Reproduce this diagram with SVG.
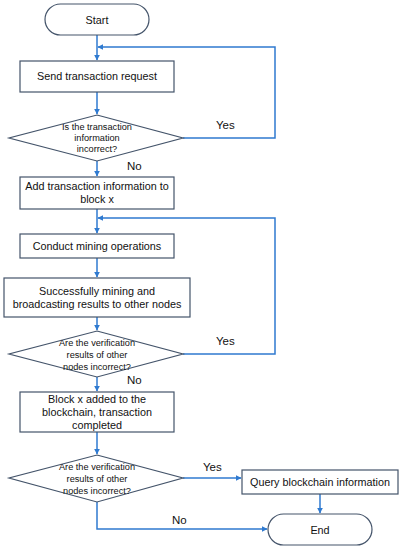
<svg xmlns="http://www.w3.org/2000/svg" width="403" height="550" viewBox="0 0 403 550">
<defs>
<marker id="ah" viewBox="0 0 10 10" refX="9" refY="5" markerWidth="6" markerHeight="6" orient="auto" markerUnits="userSpaceOnUse">
<path d="M0,0 L10,5 L0,10 z" fill="#2f7ad0"/>
</marker>
<style>
.box{fill:#fff;stroke:#44546a;stroke-width:1.2}
.t{font-family:"Liberation Sans",Arial,sans-serif;font-size:10.8px;fill:#111;text-anchor:middle}
.s{font-family:"Liberation Sans",Arial,sans-serif;font-size:9.2px;fill:#111;text-anchor:middle}
.l{font-family:"Liberation Sans",Arial,sans-serif;font-size:11.5px;fill:#111}
.c{fill:none;stroke:#2f7ad0;stroke-width:1.5}
</style>
</defs>
<rect width="403" height="550" fill="#fff"/>
<g id="connectors">
<path class="c" d="M97,35 V60" marker-end="url(#ah)"/>
<path class="c" d="M183,138 H275 V47 H98" marker-end="url(#ah)"/>
<path class="c" d="M97,92 V114" marker-end="url(#ah)"/>
<path class="c" d="M97,161 V176" marker-end="url(#ah)"/>
<path class="c" d="M97,209 V233" marker-end="url(#ah)"/>
<path class="c" d="M183,354 H275 V218 H98" marker-end="url(#ah)"/>
<path class="c" d="M97,258 V277" marker-end="url(#ah)"/>
<path class="c" d="M97,317 V330" marker-end="url(#ah)"/>
<path class="c" d="M97,377 V391" marker-end="url(#ah)"/>
<path class="c" d="M97,432 V454" marker-end="url(#ah)"/>
<path class="c" d="M183,478 H241" marker-end="url(#ah)"/>
<path class="c" d="M320,494 V513" marker-end="url(#ah)"/>
<path class="c" d="M97,502 V529 H267" marker-end="url(#ah)"/>
<text class="l" x="216" y="129">Yes</text>
<text class="l" x="127" y="170">No</text>
<text class="l" x="216" y="345">Yes</text>
<text class="l" x="127" y="384">No</text>
<text class="l" x="203" y="471">Yes</text>
<text class="l" x="172" y="524">No</text>
</g>
<g id="start">
<rect class="box" x="45" y="4" width="104" height="31" rx="15.5"/>
<text class="t" x="97" y="23.5">Start</text>
</g>
<g id="send">
<rect class="box" x="20" y="61" width="154" height="31"/>
<text class="t" x="97" y="80">Send transaction request</text>
</g>
<g id="decision1">
<polygon class="box" points="97,115 183,138 97,161 9,138"/>
<text class="s" x="97" y="130">Is the transaction</text>
<text class="s" x="97" y="141">information</text>
<text class="s" x="97" y="152">incorrect?</text>
</g>
<g id="add">
<rect class="box" x="20" y="177" width="154" height="32"/>
<text class="t" x="97" y="190">Add transaction information to</text>
<text class="t" x="97" y="203">block x</text>
</g>
<g id="mining">
<rect class="box" x="20" y="234" width="154" height="24"/>
<text class="t" x="97" y="250">Conduct mining operations</text>
</g>
<g id="broadcast">
<rect class="box" x="4" y="278" width="186" height="39"/>
<text class="t" x="97" y="295">Successfully mining and</text>
<text class="t" x="97" y="308">broadcasting results to other nodes</text>
</g>
<g id="decision2">
<polygon class="box" points="97,331 183,354 97,377 9,354"/>
<text class="s" x="97" y="346">Are the verification</text>
<text class="s" x="97" y="358">results of other</text>
<text class="s" x="97" y="370">nodes incorrect?</text>
</g>
<g id="blockadded">
<rect class="box" x="20" y="392" width="154" height="40"/>
<text class="t" x="97" y="403">Block x added to the</text>
<text class="t" x="97" y="416">blockchain, transaction</text>
<text class="t" x="97" y="429">completed</text>
</g>
<g id="decision3">
<polygon class="box" points="97,455 183,478 97,502 9,478"/>
<text class="s" x="97" y="470">Are the verification</text>
<text class="s" x="97" y="482">results of other</text>
<text class="s" x="97" y="494">nodes incorrect?</text>
</g>
<g id="query">
<rect class="box" x="242" y="470" width="156" height="24"/>
<text class="t" x="320" y="486">Query blockchain information</text>
</g>
<g id="end">
<rect class="box" x="268" y="514" width="104" height="31" rx="15.5"/>
<text class="t" x="320" y="533.5">End</text>
</g>
</svg>
